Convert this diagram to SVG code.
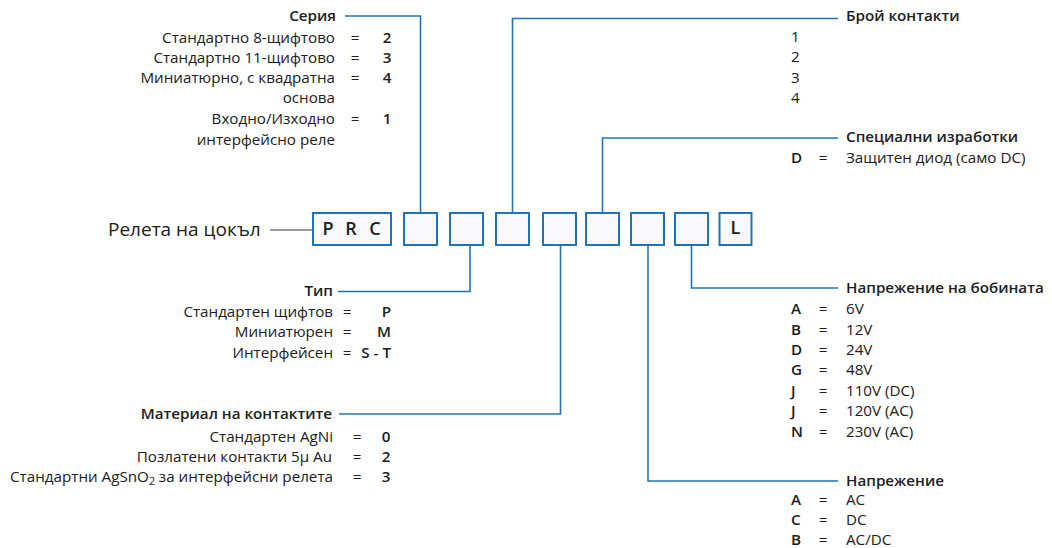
<svg xmlns="http://www.w3.org/2000/svg" width="1052" height="548" viewBox="0 0 1052 548">
<style>
text{font-family:"Open Sans","Noto Sans","Liberation Sans",sans-serif;fill:#202020;font-size:15.2px}
.h{font-weight:600}
.e{text-anchor:end}
.m{text-anchor:middle}
.v{font-weight:600}
.t{font-size:19px;font-weight:500}
.p{font-size:18px;font-weight:600}
.b{fill:#f7f9fc;stroke:#1f74b8;stroke-width:2}
.c{fill:none;stroke:#1f74b8;stroke-width:1.6}
.d{fill:none;stroke:#333;stroke-width:1.2}
</style>
<rect width="1052" height="548" fill="#ffffff"/>

<g id="connectors">
<polyline class="c" points="345,16 420.5,16 420.5,213"/>
<polyline class="c" points="838,18.5 512.5,18.5 512.5,213"/>
<polyline class="c" points="838,138 602.5,138 602.5,213"/>
<polyline class="c" points="338,291.5 470,291.5 470,245"/>
<polyline class="c" points="339,414 560.5,414 560.5,245"/>
<polyline class="c" points="838,288 691.5,288 691.5,245"/>
<polyline class="c" points="838,481 648,481 648,245"/>
<line class="d" x1="270" y1="230" x2="313" y2="230"/>
</g>

<g id="title">
<text class="t" x="108" y="236">Релета на цокъл</text>
</g>

<g id="code">
<rect class="b" x="313" y="213" width="78" height="32"/>
<text class="p" x="328" y="235" text-anchor="middle">P</text>
<text class="p" x="351" y="235" text-anchor="middle">R</text>
<text class="p" x="375" y="235" text-anchor="middle">C</text>
<rect class="b" x="404" y="213" width="33" height="32"/>
<rect class="b" x="450" y="213" width="33" height="32"/>
<rect class="b" x="496" y="213" width="33" height="32"/>
<rect class="b" x="543" y="213" width="33" height="32"/>
<rect class="b" x="586" y="213" width="33" height="32"/>
<rect class="b" x="631" y="213" width="33" height="32"/>
<rect class="b" x="675" y="213" width="33" height="32"/>
<rect class="b" x="719.5" y="213" width="32" height="32"/>
<text class="p" x="735.5" y="234" text-anchor="middle">L</text>
</g>

<g id="seria">
<text class="h e" x="336" y="21">Серия</text>
<text class="e" x="335" y="43">Стандартно 8-щифтово</text>
<text class="m" x="355" y="43">=</text><text class="v m" x="387" y="43">2</text>
<text class="e" x="335" y="63">Стандартно 11-щифтово</text>
<text class="m" x="355" y="63">=</text><text class="v m" x="387" y="63">3</text>
<text class="e" x="335" y="83">Миниатюрно, с квадратна</text>
<text class="m" x="355" y="83">=</text><text class="v m" x="387" y="83">4</text>
<text class="e" x="335" y="103">основа</text>
<text class="e" x="335" y="124">Входно/Изходно</text>
<text class="m" x="355" y="124">=</text><text class="v m" x="387" y="124">1</text>
<text class="e" x="335" y="145">интерфейсно реле</text>
</g>

<g id="broi">
<text class="h" x="846" y="21">Брой контакти</text>
<text x="791" y="42">1</text>
<text x="791" y="62">2</text>
<text x="791" y="83">3</text>
<text x="791" y="103">4</text>
</g>

<g id="specialni">
<text class="h" x="846" y="142">Специални изработки</text>
<text class="v" x="791" y="163">D</text>
<text class="m" x="823" y="163">=</text>
<text x="846" y="163">Защитен диод (само DC)</text>
</g>

<g id="tip">
<text class="h e" x="333" y="296">Тип</text>
<text class="e" x="333" y="317">Стандартен щифтов</text>
<text class="m" x="347" y="317">=</text><text class="v e" x="391" y="317">P</text>
<text class="e" x="333" y="337">Миниатюрен</text>
<text class="m" x="347" y="337">=</text><text class="v e" x="391" y="337">M</text>
<text class="e" x="333" y="358">Интерфейсен</text>
<text class="m" x="347" y="358">=</text><text class="v e" x="391" y="358">S - T</text>
</g>

<g id="material">
<text class="h e" x="332" y="419">Материал на контактите</text>
<text class="e" x="333" y="442">Стандартен AgNi</text>
<text class="m" x="357" y="442">=</text><text class="v m" x="386" y="442">0</text>
<text class="e" x="332" y="462">Позлатени контакти 5μ Au</text>
<text class="m" x="357" y="462">=</text><text class="v m" x="386" y="462">2</text>
<text class="e" x="333" y="482">Стандартни AgSnO<tspan font-size="10.5" dy="3">2</tspan><tspan dy="-3"> за интерфейсни релета</tspan></text>
<text class="m" x="357" y="482">=</text><text class="v m" x="386" y="482">3</text>
</g>

<g id="bobina">
<text class="h" x="846" y="293">Напрежение на бобината</text>
<text class="v" x="791" y="314">A</text><text class="m" x="823" y="314">=</text><text x="846" y="314">6V</text>
<text class="v" x="791" y="335">B</text><text class="m" x="823" y="335">=</text><text x="846" y="335">12V</text>
<text class="v" x="791" y="355">D</text><text class="m" x="823" y="355">=</text><text x="846" y="355">24V</text>
<text class="v" x="791" y="375">G</text><text class="m" x="823" y="375">=</text><text x="846" y="375">48V</text>
<text class="v" x="791" y="396">J</text><text class="m" x="823" y="396">=</text><text x="846" y="396">110V (DC)</text>
<text class="v" x="791" y="416">J</text><text class="m" x="823" y="416">=</text><text x="846" y="416">120V (AC)</text>
<text class="v" x="791" y="437">N</text><text class="m" x="823" y="437">=</text><text x="846" y="437">230V (AC)</text>
</g>

<g id="naprezhenie">
<text class="h" x="846" y="486">Напрежение</text>
<text class="v" x="791" y="505">A</text><text class="m" x="823" y="505">=</text><text x="846" y="505">AC</text>
<text class="v" x="791" y="525">C</text><text class="m" x="823" y="525">=</text><text x="846" y="525">DC</text>
<text class="v" x="791" y="545">B</text><text class="m" x="823" y="545">=</text><text x="846" y="545">AC/DC</text>
</g>
</svg>
